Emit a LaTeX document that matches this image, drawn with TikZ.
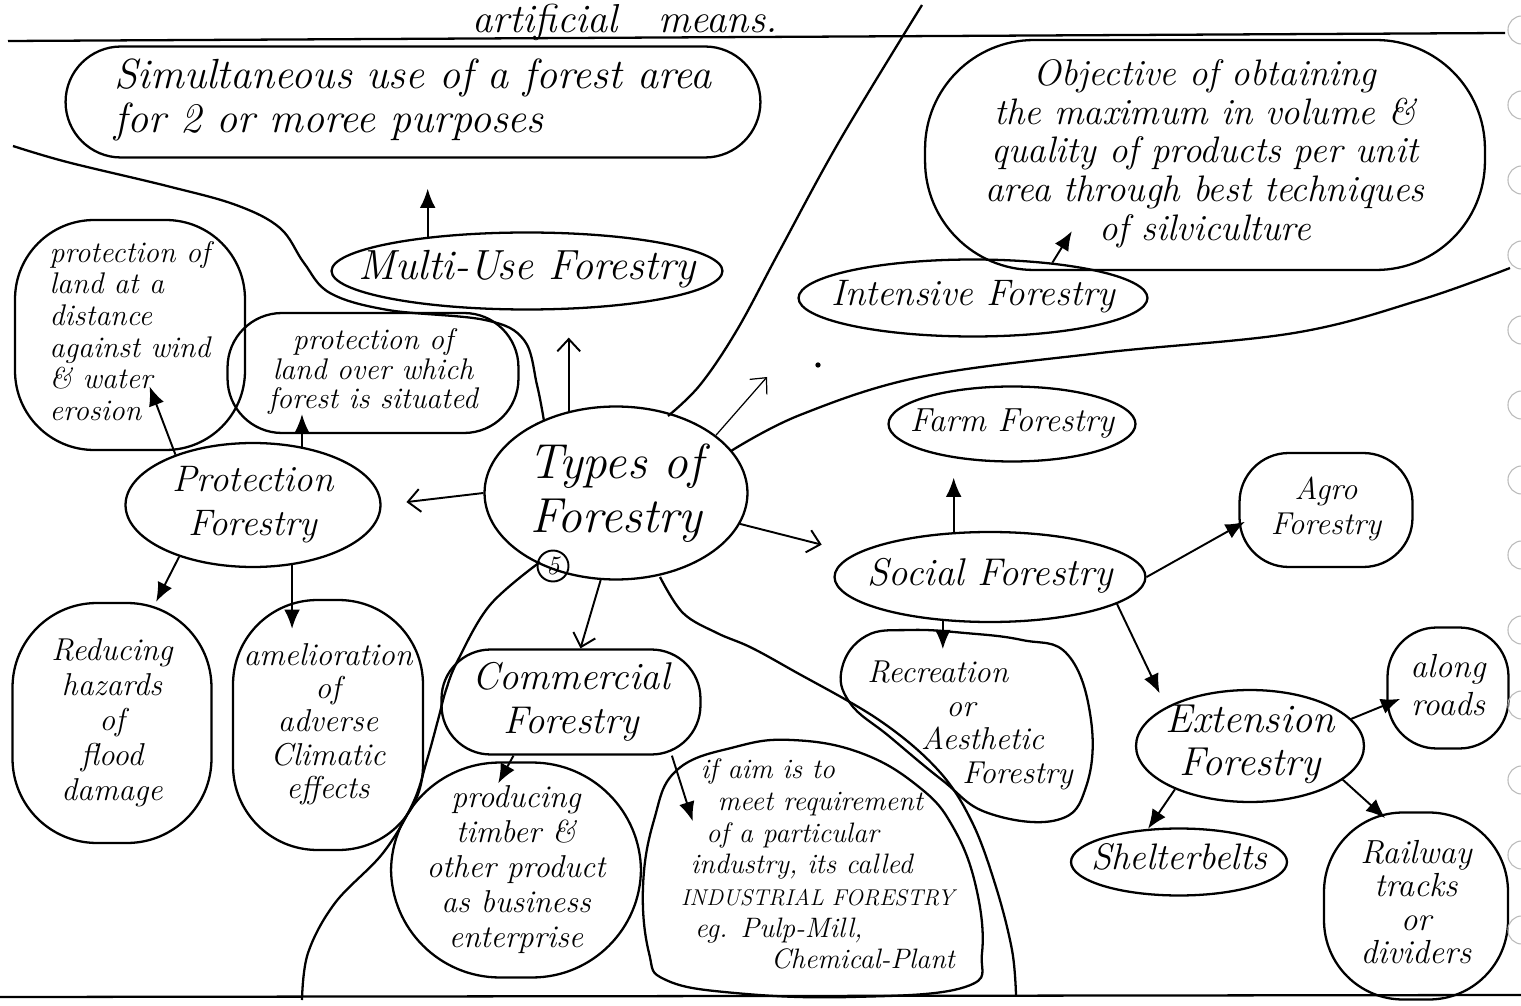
\documentclass[tikz,border=0pt]{standalone}
\usetikzlibrary{shapes.geometric,shapes.misc,arrows.meta,calc}
\newcommand{\hw}[2]{\fontsize{#1}{#2}\selectfont\itshape}
\newcommand{\hwc}[1]{\makebox[0pt]{\smash{\raisebox{-0.25em}{\begin{tabular}{@{}c@{}}#1\end{tabular}}}}}
\newcommand{\hwl}[1]{\makebox[0pt]{\smash{\raisebox{-0.25em}{\begin{tabular}{@{}l@{}}#1\end{tabular}}}}}

\begin{document}
\begin{tikzpicture}[x=0.02cm,y=-0.02cm]
            \tikzstyle{bubble}=[draw, ellipse, line width=1.3pt, inner sep=0pt]
            \tikzstyle{blob}=[draw, rectangle, line width=1.3pt, inner sep=0pt]
            \tikzstyle{freeform}=[rectangle, inner sep=0pt]
            \tikzstyle{solidtip}=[line width=1.1pt, -{Latex[length=11pt,width=9pt]}]
            \tikzstyle{hollowtip}=[line width=1.1pt, -{Straight Barb[length=7pt,width=13pt]}]
            \tikzstyle{border}=[line width=1.3pt]

            \useasboundingbox (0,0) rectangle (1521,1006);
            \fill[white] (0,0) rectangle (1521,1006);

            \node[font=\hw{23}{23}, anchor=base] (means) at (625,33) {artificial\quad means.};

            \node[bubble, minimum width=5.26cm, minimum height=3.46cm, font=\hw{28}{31}] (types) at (616,493) {\hwc{Types of\\Forestry}};
            \node[draw, circle, line width=1.1pt, minimum size=0.62cm, inner sep=0pt, font=\hw{15}{15}] (five) at (553,566) {5};

            \node[bubble, minimum width=7.82cm, minimum height=1.54cm, font=\hw{24}{24}] (multiuse) at (527,271) {\hwc{Multi-Use Forestry}};
            \node[draw, rounded rectangle, line width=1.3pt, inner sep=0pt, minimum width=13.9cm, minimum height=2.22cm, font=\hw{24}{25}] (simul) at (413,102) {\hwl{Simultaneous use of a forest area\\for 2 or moree purposes}};

            \node[bubble, minimum width=5.1cm, minimum height=2.48cm, font=\hw{21}{25}] (protection) at (253,505) {\hwc{Protection\\Forestry}};
            \node[blob, rounded corners=45pt, minimum width=4.6cm, minimum height=4.6cm, font=\hw{17}{18}] (distance) at (130,335) {\hwl{protection of\\land at a\\distance\\against wind\\\& water\\erosion}};
            \node[blob, rounded corners=31pt, minimum width=5.82cm, minimum height=2.4cm, font=\hw{17}{16}] (overland) at (373,373) {\hwc{protection of\\land over which\\forest is situated}};
            \node[blob, rounded corners=48pt, minimum width=3.98cm, minimum height=4.8cm, font=\hw{18}{20}] (flood) at (112,723) {\hwc{Reducing\\hazards\\of\\flood\\damage}};
            \node[blob, rounded corners=48pt, minimum width=3.8cm, minimum height=5cm, font=\hw{18}{19}] (climate) at (328,725) {\hwc{amelioration\\of\\adverse\\Climatic\\effects}};

            \node[blob, rounded corners=28pt, minimum width=5.18cm, minimum height=2.1cm, font=\hw{22}{25}] (commercial) at (571,702) {\hwc{Commercial\\Forestry}};
            \node[blob, rounded corners=62pt, minimum width=5cm, minimum height=4.3cm, font=\hw{18}{20}] (timber) at (516,870) {\hwc{producing\\timber \&\\other product\\as business\\enterprise}};
            \node[freeform, minimum width=6.52cm, minimum height=5.06cm, font=\hw{16}{18}] (industrial) at (818,868) {\hwl{\hspace{0.7em}if aim is to\\\hspace{1.3em}meet requirement\\\hspace{0.9em}of a particular\\\hspace{0.35em}industry, its called\\{\fontsize{13}{18}\selectfont INDUSTRIAL FORESTRY}\\\hspace{0.5em}eg. Pulp-Mill,\\\hspace{3.2em}Chemical-Plant}};

            \node[bubble, minimum width=6.98cm, minimum height=1.54cm, font=\hw{21}{21}] (intensive) at (973,298) {\hwc{Intensive Forestry}};
            \node[blob, rounded corners=62pt, minimum width=11.2cm, minimum height=4.6cm, font=\hw{21}{22}] (objective) at (1205,155) {\hwc{Objective of obtaining\\the maximum in volume \&\\quality of products per unit\\area through best techniques\\of silviculture}};

            \node[bubble, minimum width=4.94cm, minimum height=1.5cm, font=\hw{19}{19}] (farm) at (1012,424) {\hwc{Farm Forestry}};
            \node[bubble, minimum width=6.22cm, minimum height=1.8cm, font=\hw{22}{22}] (social) at (990,577) {\hwc{Social Forestry}};
            \node[blob, rounded corners=28pt, minimum width=3.46cm, minimum height=2.28cm, font=\hw{18}{20}] (agro) at (1326,510) {\hwc{Agro\\Forestry}};
            \node[freeform, minimum width=5.06cm, minimum height=3.86cm, font=\hw{18}{19}] (recreation) at (970,726) {\hwl{Recreation\\\hspace{2.5em}or\\\hspace{1.7em}Aesthetic\\\hspace{3em}Forestry}};
            \node[bubble, minimum width=4.56cm, minimum height=2.24cm, font=\hw{23}{25}] (extension) at (1250,746) {\hwc{Extension\\Forestry}};
            \node[blob, rounded corners=28pt, minimum width=2.42cm, minimum height=2.42cm, font=\hw{19}{22}] (along) at (1448,688) {\hwc{along\\roads}};
            \node[bubble, minimum width=4.32cm, minimum height=1.34cm, font=\hw{21}{21}] (shelter) at (1179,862) {\hwc{Shelterbelts}};
            \node[blob, rounded corners=45pt, minimum width=3.68cm, minimum height=3.74cm, font=\hw{19}{19}] (railway) at (1416,906) {\hwc{Railway\\tracks\\or\\dividers}};

            \draw[border] plot[smooth cycle, tension=0.7] coordinates {(842,668) (866,636) (910,630) (965,633) (1022,640) (1068,655) (1091,720) (1086,787) (1057,820) (988,813) (942,780) (890,737) (850,703)};
            \draw[border] plot[smooth cycle, tension=0.7] coordinates {(649,953) (643,887) (654,820) (677,770) (735,747) (792,740) (861,753) (919,787) (953,827) (976,887) (982,953) (965,987) (850,997) (735,993) (666,980)};

            \coordinate (loose) at (767,377);

            \draw[border] (8,41) -- (1505,33);
            \draw[border] (0,997) -- (1521,995);
            \draw[border] plot[smooth, tension=0.6] coordinates {(13,146) (67,162) (167,186) (236,205) (280,228) (304,263) (330,293) (388,310) (485,320) (524,340) (537,385) (544,421)};
            \draw[border] plot[smooth, tension=0.6] coordinates {(922,5) (840,140) (780,250) (737,330) (700,385) (668,416)};
            \draw[border] plot[smooth, tension=0.6] coordinates {(731,451) (800,415) (920,377) (1100,353) (1294,333) (1420,300) (1510,268)};
            \draw[border] plot[smooth, tension=0.6] coordinates {(540,562) (490,605) (458,660) (446,690) (438,720) (427,760) (413,803) (383,853) (335,903) (308,953) (302,1000)};
            \draw[border] plot[smooth, tension=0.6] coordinates {(660,577) (683,613) (717,633) (750,647) (792,670) (879,720) (938,770) (972,822) (996,887) (1012,950) (1016,995)};
            \fill (818,365) circle[radius=1.5pt];
            \foreach \y in {30,105,...,930}
                \draw[gray!55, line width=0.6pt] (1522,\y) circle[radius=8pt];

            \draw[hollowtip, shorten >=0.54cm] (types.120) -- (types.120 |- multiuse.south);
            \draw[solidtip, shorten >=0.6cm] (multiuse.161) -- (multiuse.161 |- simul.south);
            \draw[hollowtip, shorten >=0.5cm] (types.west) -- (protection.east);
            \draw[solidtip, shorten >=1.1cm] (protection.147) -- (distance.center);
            \draw[solidtip, shorten >=-0.4cm] (protection.50) -- (protection.50 |- overland.south);
            \draw[solidtip] (protection.215) -- (flood.70);
            \draw[solidtip, shorten >=-0.6cm] (protection.-57) -- (protection.-57 |- climate.north);
            \draw[hollowtip] (types.-100) -- (commercial.80);
            \draw[solidtip, shorten >=-0.5cm] (commercial.223) -- (timber.93);
            \draw[solidtip] (commercial.-28) -- ($(industrial.north west)+(38,80)$);
            \draw[hollowtip, shorten >=0.7cm] (types.-14) -- (social.170);
            \draw[hollowtip, line width=0.7pt] (types.30) -- (loose);
            \draw[solidtip] (intensive.24) -- ($(objective.south west)+(148,-40)$);
            \draw[solidtip, shorten >=0.3cm] (social.129) -- (social.129 |- farm.south);
            \draw[solidtip, shorten >=-0.15cm] (social.east) -- (agro.190);
            \draw[solidtip, shorten >=-0.4cm] (social.223) -- (social.223 |- recreation.north);
            \draw[solidtip, shorten >=0.3cm] (social.-12) -- (extension.155);
            \draw[solidtip, shorten >=-0.3cm] (extension.15) -- (along.195);
            \draw[solidtip] (extension.210) -- (shelter.133);
            \draw[solidtip, shorten >=-0.2cm] (extension.-20) -- (railway.112);
\end{tikzpicture}
\end{document}
